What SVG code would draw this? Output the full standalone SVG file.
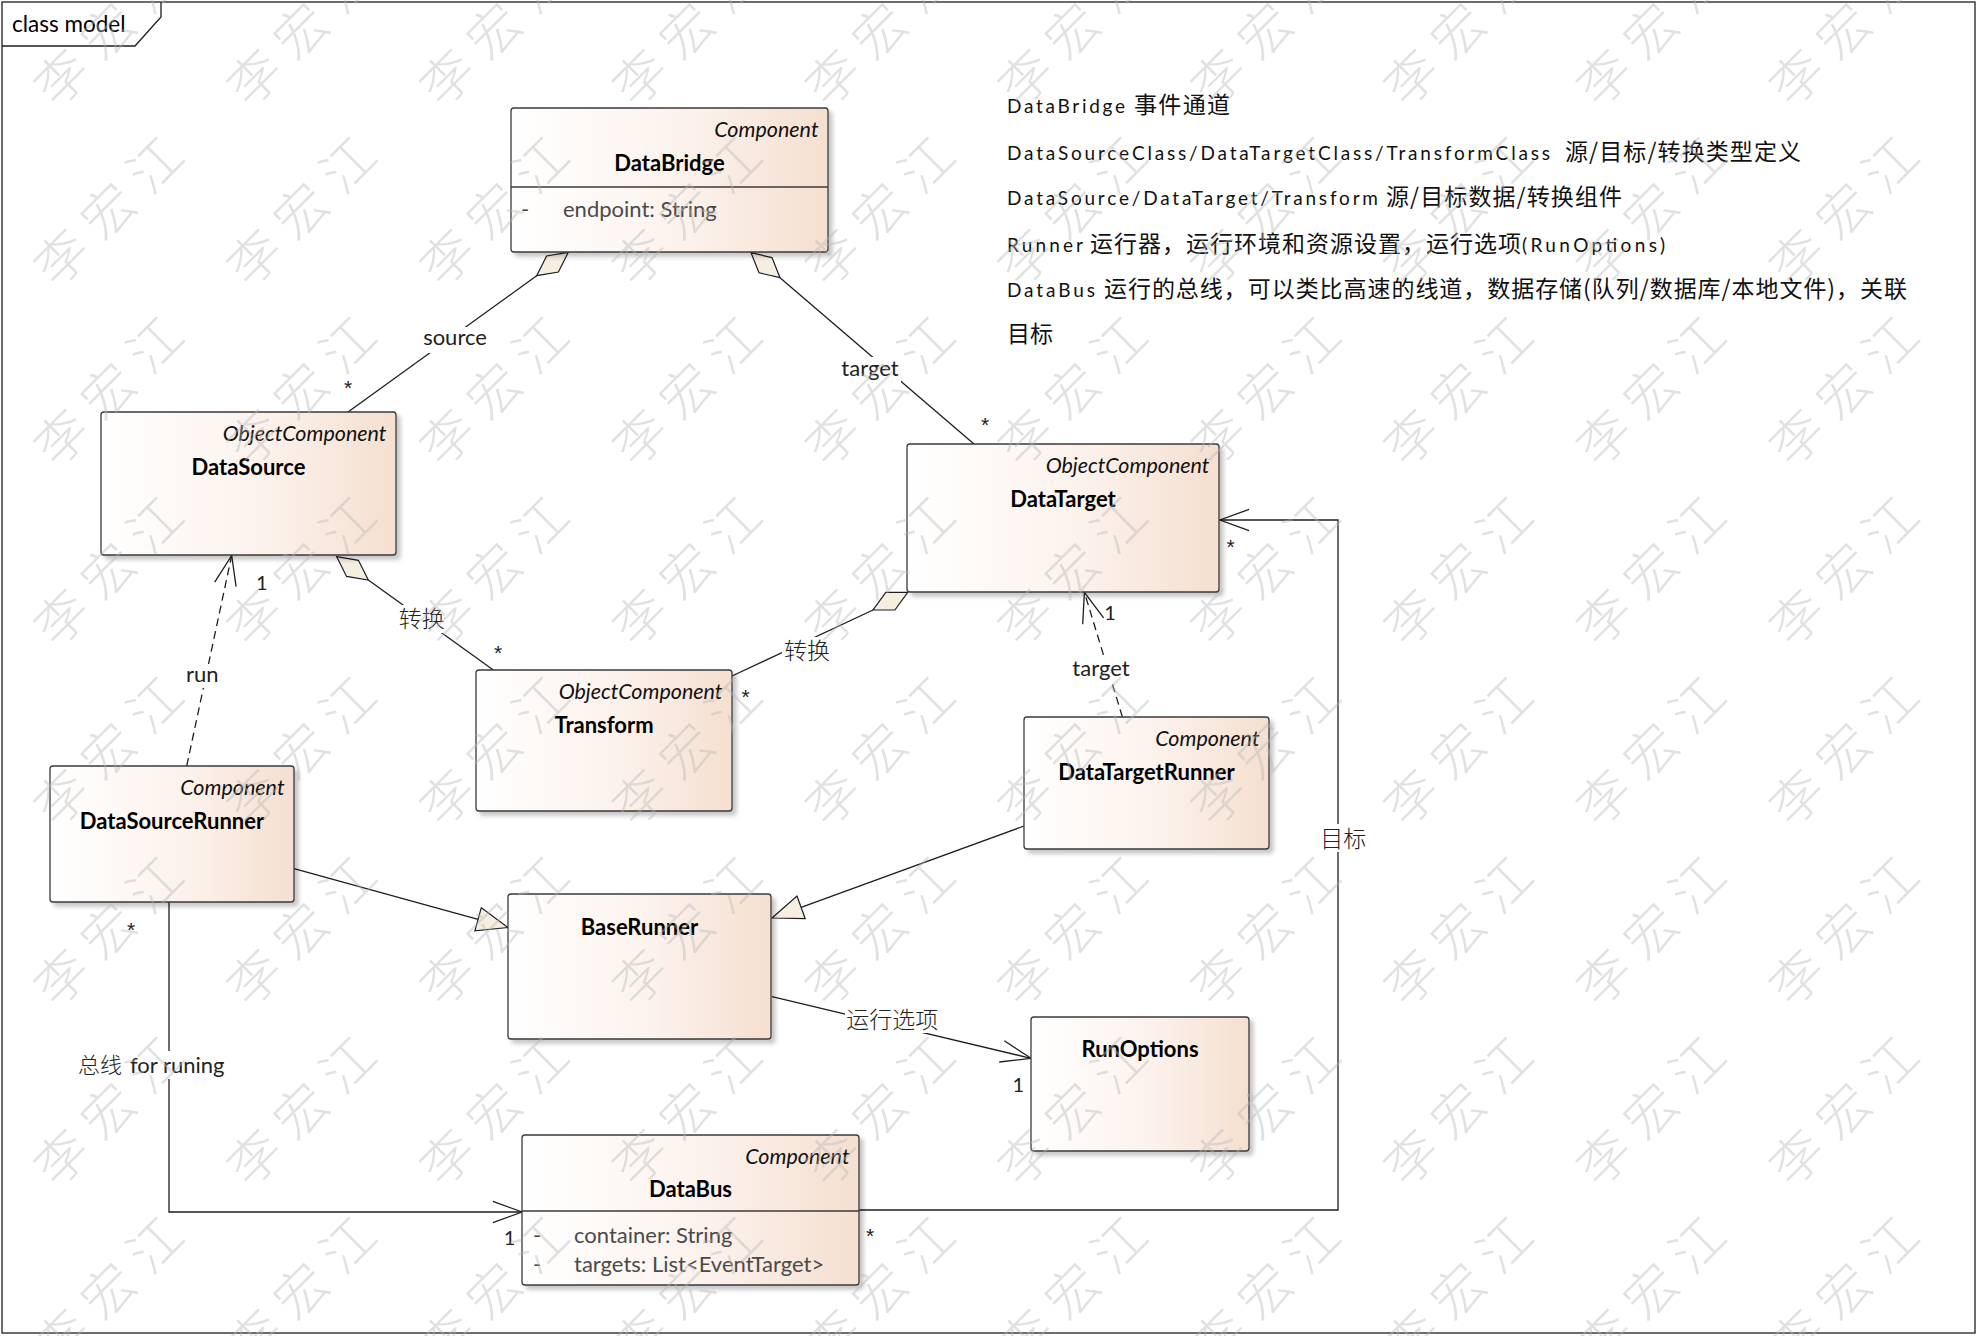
<svg xmlns="http://www.w3.org/2000/svg" xmlns:xlink="http://www.w3.org/1999/xlink" width="1978" height="1336" viewBox="0 0 1978 1336">
<style>
.box{fill:url(#bg);stroke:#3a3a3a;stroke-width:1.3;filter:url(#sh)}
.div{stroke:#3a3a3a;stroke-width:1.3}
.st{font-family:Lato,"Liberation Sans",sans-serif;font-style:italic;font-size:21.5px;text-anchor:end;fill:#111}
.nm{font-family:Lato,"Liberation Sans",sans-serif;font-weight:bold;font-size:22px;text-anchor:middle;fill:#000}
.at{font-family:Lato,"Liberation Sans",sans-serif;font-size:22px;fill:#4a4a4a}
.ln{stroke:#1e1e1e;stroke-width:1.3;fill:none}
.dash{stroke-dasharray:8 5}
.head{fill:#f7eee2;stroke:#1e1e1e;stroke-width:1.2}
.lbl{font-family:Lato,"Liberation Sans",sans-serif;font-size:22px;text-anchor:middle;fill:#222}
.cj{font-family:"Noto Sans CJK SC",sans-serif;font-weight:300;font-size:23px;text-anchor:middle;fill:#222}
.mul{font-family:Lato,"Liberation Sans",sans-serif;font-size:20px;text-anchor:middle;fill:#222}
.ast{font-family:"Liberation Sans",Arial,sans-serif;font-size:21px;text-anchor:middle;fill:#222}
.bgl{fill:#ffffff}
.nl{font-family:Lato,"Liberation Sans",sans-serif;font-size:19px;fill:#111}
.nc{font-family:"Noto Sans CJK SC",sans-serif;font-size:23px;fill:#111}
</style>
<defs>
<linearGradient id="bg" x1="0" y1="0" x2="1" y2="0">
<stop offset="0" stop-color="#ffffff"/>
<stop offset="0.55" stop-color="#fcf2ec"/>
<stop offset="1" stop-color="#f5dfd0"/>
</linearGradient>
<filter id="sh" x="-10%" y="-10%" width="130%" height="130%">
<feDropShadow dx="4" dy="4" stdDeviation="2" flood-color="#000" flood-opacity="0.22"/>
</filter>
<text id="w" transform="rotate(-45)" text-anchor="middle" dy="0.35em" letter-spacing="14" font-family="Noto Sans CJK SC, sans-serif" font-weight="300" font-size="52">李宏江</text>
</defs>
<rect x="0" y="0" width="1978" height="1336" fill="#ffffff"/>

<g id="frame">
<rect x="2" y="2" width="1973" height="1331" fill="none" stroke="#1e1e1e" stroke-width="1.3"/>
<path d="M2,46 H135 L161,17 V2" fill="none" stroke="#1e1e1e" stroke-width="1.3"/>
<text x="12" y="32" font-family="Lato, Liberation Sans, sans-serif" font-size="22.5" fill="#000">class model</text>
</g>

<g id="notes">
<text class="nl" x="1007" y="113" textLength="118" lengthAdjust="spacing">DataBridge</text>
<text class="nc" x="1134" y="113" textLength="96" lengthAdjust="spacing">事件通道</text>
<text class="nl" x="1007" y="159.5" textLength="543" lengthAdjust="spacing">DataSourceClass/DataTargetClass/TransformClass</text>
<text class="nc" x="1565" y="159.5" textLength="236" lengthAdjust="spacing">源/目标/转换类型定义</text>
<text class="nl" x="1007" y="205" textLength="371" lengthAdjust="spacing">DataSource/DataTarget/Transform</text>
<text class="nc" x="1386" y="205" textLength="236" lengthAdjust="spacing">源/目标数据/转换组件</text>
<text class="nl" x="1007" y="251.5" textLength="76" lengthAdjust="spacing">Runner</text>
<text class="nc" x="1090" y="251.5" textLength="431" lengthAdjust="spacing">运行器，运行环境和资源设置，运行选项</text>
<text class="nl" x="1522" y="251.5" textLength="143" lengthAdjust="spacing">(RunOptions)</text>
<text class="nl" x="1007" y="297" textLength="88" lengthAdjust="spacing">DataBus</text>
<text class="nc" x="1104" y="297" textLength="803" lengthAdjust="spacing">运行的总线，可以类比高速的线道，数据存储(队列/数据库/本地文件)，关联</text>
<text class="nc" x="1007" y="342">目标</text>
</g>

<g id="connectors">
<!-- source aggregation -->
<line class="ln" x1="348" y1="412" x2="536.7" y2="275.7"/>
<polygon class="head" points="568.3,252.3 558.4,272 536.7,275.7 546.6,256"/>
<rect class="bgl" x="422" y="327" width="66" height="26"/>
<text class="lbl" x="455" y="345">source</text>
<text class="ast" x="348" y="395">*</text>
<!-- target aggregation -->
<line class="ln" x1="780" y1="277.7" x2="974" y2="444"/>
<polygon class="head" points="751,252.7 772,257.6 780,277.7 759,272.8"/>
<rect class="bgl" x="839" y="357" width="62" height="26"/>
<text class="lbl" x="870" y="376">target</text>
<text class="ast" x="985" y="432">*</text>
<!-- 转换 DataSource-Transform -->
<line class="ln" x1="368.3" y1="580" x2="493.3" y2="670"/>
<polygon class="head" points="336.7,556.7 358.4,560.3 368.3,580 346.6,576.4"/>
<rect class="bgl" x="397" y="605" width="50" height="28"/>
<text class="cj" x="421.7" y="627">转换</text>
<text class="ast" x="498" y="660">*</text>
<!-- 转换 DataTarget-Transform -->
<line class="ln" x1="873" y1="610" x2="732" y2="676"/>
<polygon class="head" points="907.7,592.3 885.8,592.3 873,610 894.9,610"/>
<rect class="bgl" x="782" y="637" width="50" height="28"/>
<text class="cj" x="806.9" y="659">转换</text>
<text class="ast" x="745.6" y="704">*</text>
<!-- run dependency -->
<line class="ln dash" x1="186.7" y1="766" x2="231.7" y2="555.5"/>
<polyline class="ln" points="214.7,582.1 231.7,555.5 236.1,586.7"/>
<rect class="bgl" x="185" y="664" width="35" height="24"/>
<text class="lbl" x="202.3" y="682">run</text>
<text class="mul" x="261.7" y="590">1</text>
<!-- target dependency -->
<line class="ln dash" x1="1122.4" y1="717" x2="1084.4" y2="592.3"/>
<polyline class="ln" points="1082.7,624.2 1084.4,592.3 1103.6,617.9"/>
<rect class="bgl" x="1070" y="656" width="62" height="26"/>
<text class="lbl" x="1101" y="676">target</text>
<text class="mul" x="1110" y="620">1</text>
<!-- generalization DataSourceRunner -> BaseRunner -->
<line class="ln" x1="294" y1="868.6" x2="478.1" y2="919.3"/>
<polygon class="head" points="508,927.5 474.9,930.9 481.3,907.7"/>
<!-- generalization DataTargetRunner -> BaseRunner -->
<line class="ln" x1="1024" y1="826" x2="801.1" y2="907.4"/>
<polygon class="head" points="772,918 805.2,918.7 797,896.1"/>
<!-- 运行选项 -->
<line class="ln" x1="772" y1="996.7" x2="1031" y2="1058.3"/>
<polyline class="ln" points="1004.3,1040.7 1031,1058.3 999.2,1062"/>
<rect class="bgl" x="845" y="1005" width="95" height="28"/>
<text class="cj" x="892.2" y="1028">运行选项</text>
<text class="mul" x="1018.3" y="1091.5">1</text>
<!-- 总线 for runing -->
<polyline class="ln" points="169,902 169,1212 522,1212"/>
<polyline class="ln" points="492.9,1201.4 522,1212 492.9,1222.6"/>
<rect class="bgl" x="76" y="1051" width="147" height="28"/>
<text x="78" y="1073" font-size="22" fill="#222"><tspan font-family="Noto Sans CJK SC, sans-serif" font-weight="300">总线</tspan><tspan font-family="Lato, Liberation Sans, sans-serif" x="130">for runing</tspan></text>
<text class="ast" x="131" y="937">*</text>
<text class="mul" x="509.6" y="1245">1</text>
<!-- 目标 -->
<polyline class="ln" points="859,1210 1338,1210 1338,520 1220,520"/>
<polyline class="ln" points="1249.1,509.4 1220,520 1249.1,530.6"/>
<rect class="bgl" x="1319" y="824" width="50" height="28"/>
<text class="cj" x="1343.3" y="847">目标</text>
<text class="ast" x="1230.7" y="554">*</text>
<text class="ast" x="870" y="1243">*</text>
</g>

<g id="DataBridge">
<rect class="box" x="511" y="108" width="317" height="144" rx="3"/>
<line class="div" x1="511" y1="187" x2="828" y2="187"/>
<text class="st" x="818.5" y="136.5">Component</text>
<text class="nm" x="669.5" y="170.5">DataBridge</text>
<text class="at" x="521" y="217">-</text>
<text class="at" x="563" y="217">endpoint: String</text>
</g>
<g id="DataSource">
<rect class="box" x="101" y="412" width="295" height="143" rx="3"/>
<text class="st" x="386.5" y="440.5">ObjectComponent</text>
<text class="nm" x="248.5" y="474.5">DataSource</text>
</g>
<g id="DataTarget">
<rect class="box" x="907" y="444" width="312" height="148" rx="3"/>
<text class="st" x="1209.5" y="472.5">ObjectComponent</text>
<text class="nm" x="1063" y="506.5">DataTarget</text>
</g>
<g id="Transform">
<rect class="box" x="476" y="670" width="256" height="141" rx="3"/>
<text class="st" x="722.5" y="698.5">ObjectComponent</text>
<text class="nm" x="604" y="732.5">Transform</text>
</g>
<g id="DataSourceRunner">
<rect class="box" x="50" y="766" width="244" height="136" rx="3"/>
<text class="st" x="284.5" y="794.5">Component</text>
<text class="nm" x="172" y="828.5">DataSourceRunner</text>
</g>
<g id="DataTargetRunner">
<rect class="box" x="1024" y="717" width="245" height="132" rx="3"/>
<text class="st" x="1259.5" y="745.5">Component</text>
<text class="nm" x="1146.5" y="779.5">DataTargetRunner</text>
</g>
<g id="BaseRunner">
<rect class="box" x="508" y="894" width="263" height="145" rx="3"/>
<text class="nm" x="639.5" y="935">BaseRunner</text>
</g>
<g id="RunOptions">
<rect class="box" x="1031" y="1017" width="218" height="134" rx="3"/>
<text class="nm" x="1140" y="1057">RunOptions</text>
</g>
<g id="DataBus">
<rect class="box" x="522" y="1135" width="337" height="150" rx="3"/>
<line class="div" x1="522" y1="1211" x2="859" y2="1211"/>
<text class="st" x="849.5" y="1163.5">Component</text>
<text class="nm" x="690.5" y="1197">DataBus</text>
<text class="at" x="533" y="1243">-</text>
<text class="at" x="574" y="1243">container: String</text>
<text class="at" x="533" y="1272">-</text>
<text class="at" x="574" y="1272">targets: List&lt;EventTarget&gt;</text>
</g>

<g id="watermark" fill="#b8b8b8" opacity="0.42">
<use xlink:href="#w" x="114" y="26.7"/><use xlink:href="#w" x="306.8" y="26.7"/><use xlink:href="#w" x="499.6" y="26.7"/><use xlink:href="#w" x="692.4" y="26.7"/><use xlink:href="#w" x="885.2" y="26.7"/><use xlink:href="#w" x="1078" y="26.7"/><use xlink:href="#w" x="1270.8" y="26.7"/><use xlink:href="#w" x="1463.6" y="26.7"/><use xlink:href="#w" x="1656.4" y="26.7"/><use xlink:href="#w" x="1849.2" y="26.7"/>
<use xlink:href="#w" x="114" y="206.7"/><use xlink:href="#w" x="306.8" y="206.7"/><use xlink:href="#w" x="499.6" y="206.7"/><use xlink:href="#w" x="692.4" y="206.7"/><use xlink:href="#w" x="885.2" y="206.7"/><use xlink:href="#w" x="1078" y="206.7"/><use xlink:href="#w" x="1270.8" y="206.7"/><use xlink:href="#w" x="1463.6" y="206.7"/><use xlink:href="#w" x="1656.4" y="206.7"/><use xlink:href="#w" x="1849.2" y="206.7"/>
<use xlink:href="#w" x="114" y="386.7"/><use xlink:href="#w" x="306.8" y="386.7"/><use xlink:href="#w" x="499.6" y="386.7"/><use xlink:href="#w" x="692.4" y="386.7"/><use xlink:href="#w" x="885.2" y="386.7"/><use xlink:href="#w" x="1078" y="386.7"/><use xlink:href="#w" x="1270.8" y="386.7"/><use xlink:href="#w" x="1463.6" y="386.7"/><use xlink:href="#w" x="1656.4" y="386.7"/><use xlink:href="#w" x="1849.2" y="386.7"/>
<use xlink:href="#w" x="114" y="566.7"/><use xlink:href="#w" x="306.8" y="566.7"/><use xlink:href="#w" x="499.6" y="566.7"/><use xlink:href="#w" x="692.4" y="566.7"/><use xlink:href="#w" x="885.2" y="566.7"/><use xlink:href="#w" x="1078" y="566.7"/><use xlink:href="#w" x="1270.8" y="566.7"/><use xlink:href="#w" x="1463.6" y="566.7"/><use xlink:href="#w" x="1656.4" y="566.7"/><use xlink:href="#w" x="1849.2" y="566.7"/>
<use xlink:href="#w" x="114" y="746.7"/><use xlink:href="#w" x="306.8" y="746.7"/><use xlink:href="#w" x="499.6" y="746.7"/><use xlink:href="#w" x="692.4" y="746.7"/><use xlink:href="#w" x="885.2" y="746.7"/><use xlink:href="#w" x="1078" y="746.7"/><use xlink:href="#w" x="1270.8" y="746.7"/><use xlink:href="#w" x="1463.6" y="746.7"/><use xlink:href="#w" x="1656.4" y="746.7"/><use xlink:href="#w" x="1849.2" y="746.7"/>
<use xlink:href="#w" x="114" y="926.7"/><use xlink:href="#w" x="306.8" y="926.7"/><use xlink:href="#w" x="499.6" y="926.7"/><use xlink:href="#w" x="692.4" y="926.7"/><use xlink:href="#w" x="885.2" y="926.7"/><use xlink:href="#w" x="1078" y="926.7"/><use xlink:href="#w" x="1270.8" y="926.7"/><use xlink:href="#w" x="1463.6" y="926.7"/><use xlink:href="#w" x="1656.4" y="926.7"/><use xlink:href="#w" x="1849.2" y="926.7"/>
<use xlink:href="#w" x="114" y="1106.7"/><use xlink:href="#w" x="306.8" y="1106.7"/><use xlink:href="#w" x="499.6" y="1106.7"/><use xlink:href="#w" x="692.4" y="1106.7"/><use xlink:href="#w" x="885.2" y="1106.7"/><use xlink:href="#w" x="1078" y="1106.7"/><use xlink:href="#w" x="1270.8" y="1106.7"/><use xlink:href="#w" x="1463.6" y="1106.7"/><use xlink:href="#w" x="1656.4" y="1106.7"/><use xlink:href="#w" x="1849.2" y="1106.7"/>
<use xlink:href="#w" x="114" y="1286.7"/><use xlink:href="#w" x="306.8" y="1286.7"/><use xlink:href="#w" x="499.6" y="1286.7"/><use xlink:href="#w" x="692.4" y="1286.7"/><use xlink:href="#w" x="885.2" y="1286.7"/><use xlink:href="#w" x="1078" y="1286.7"/><use xlink:href="#w" x="1270.8" y="1286.7"/><use xlink:href="#w" x="1463.6" y="1286.7"/><use xlink:href="#w" x="1656.4" y="1286.7"/><use xlink:href="#w" x="1849.2" y="1286.7"/>
</g>
</svg>
